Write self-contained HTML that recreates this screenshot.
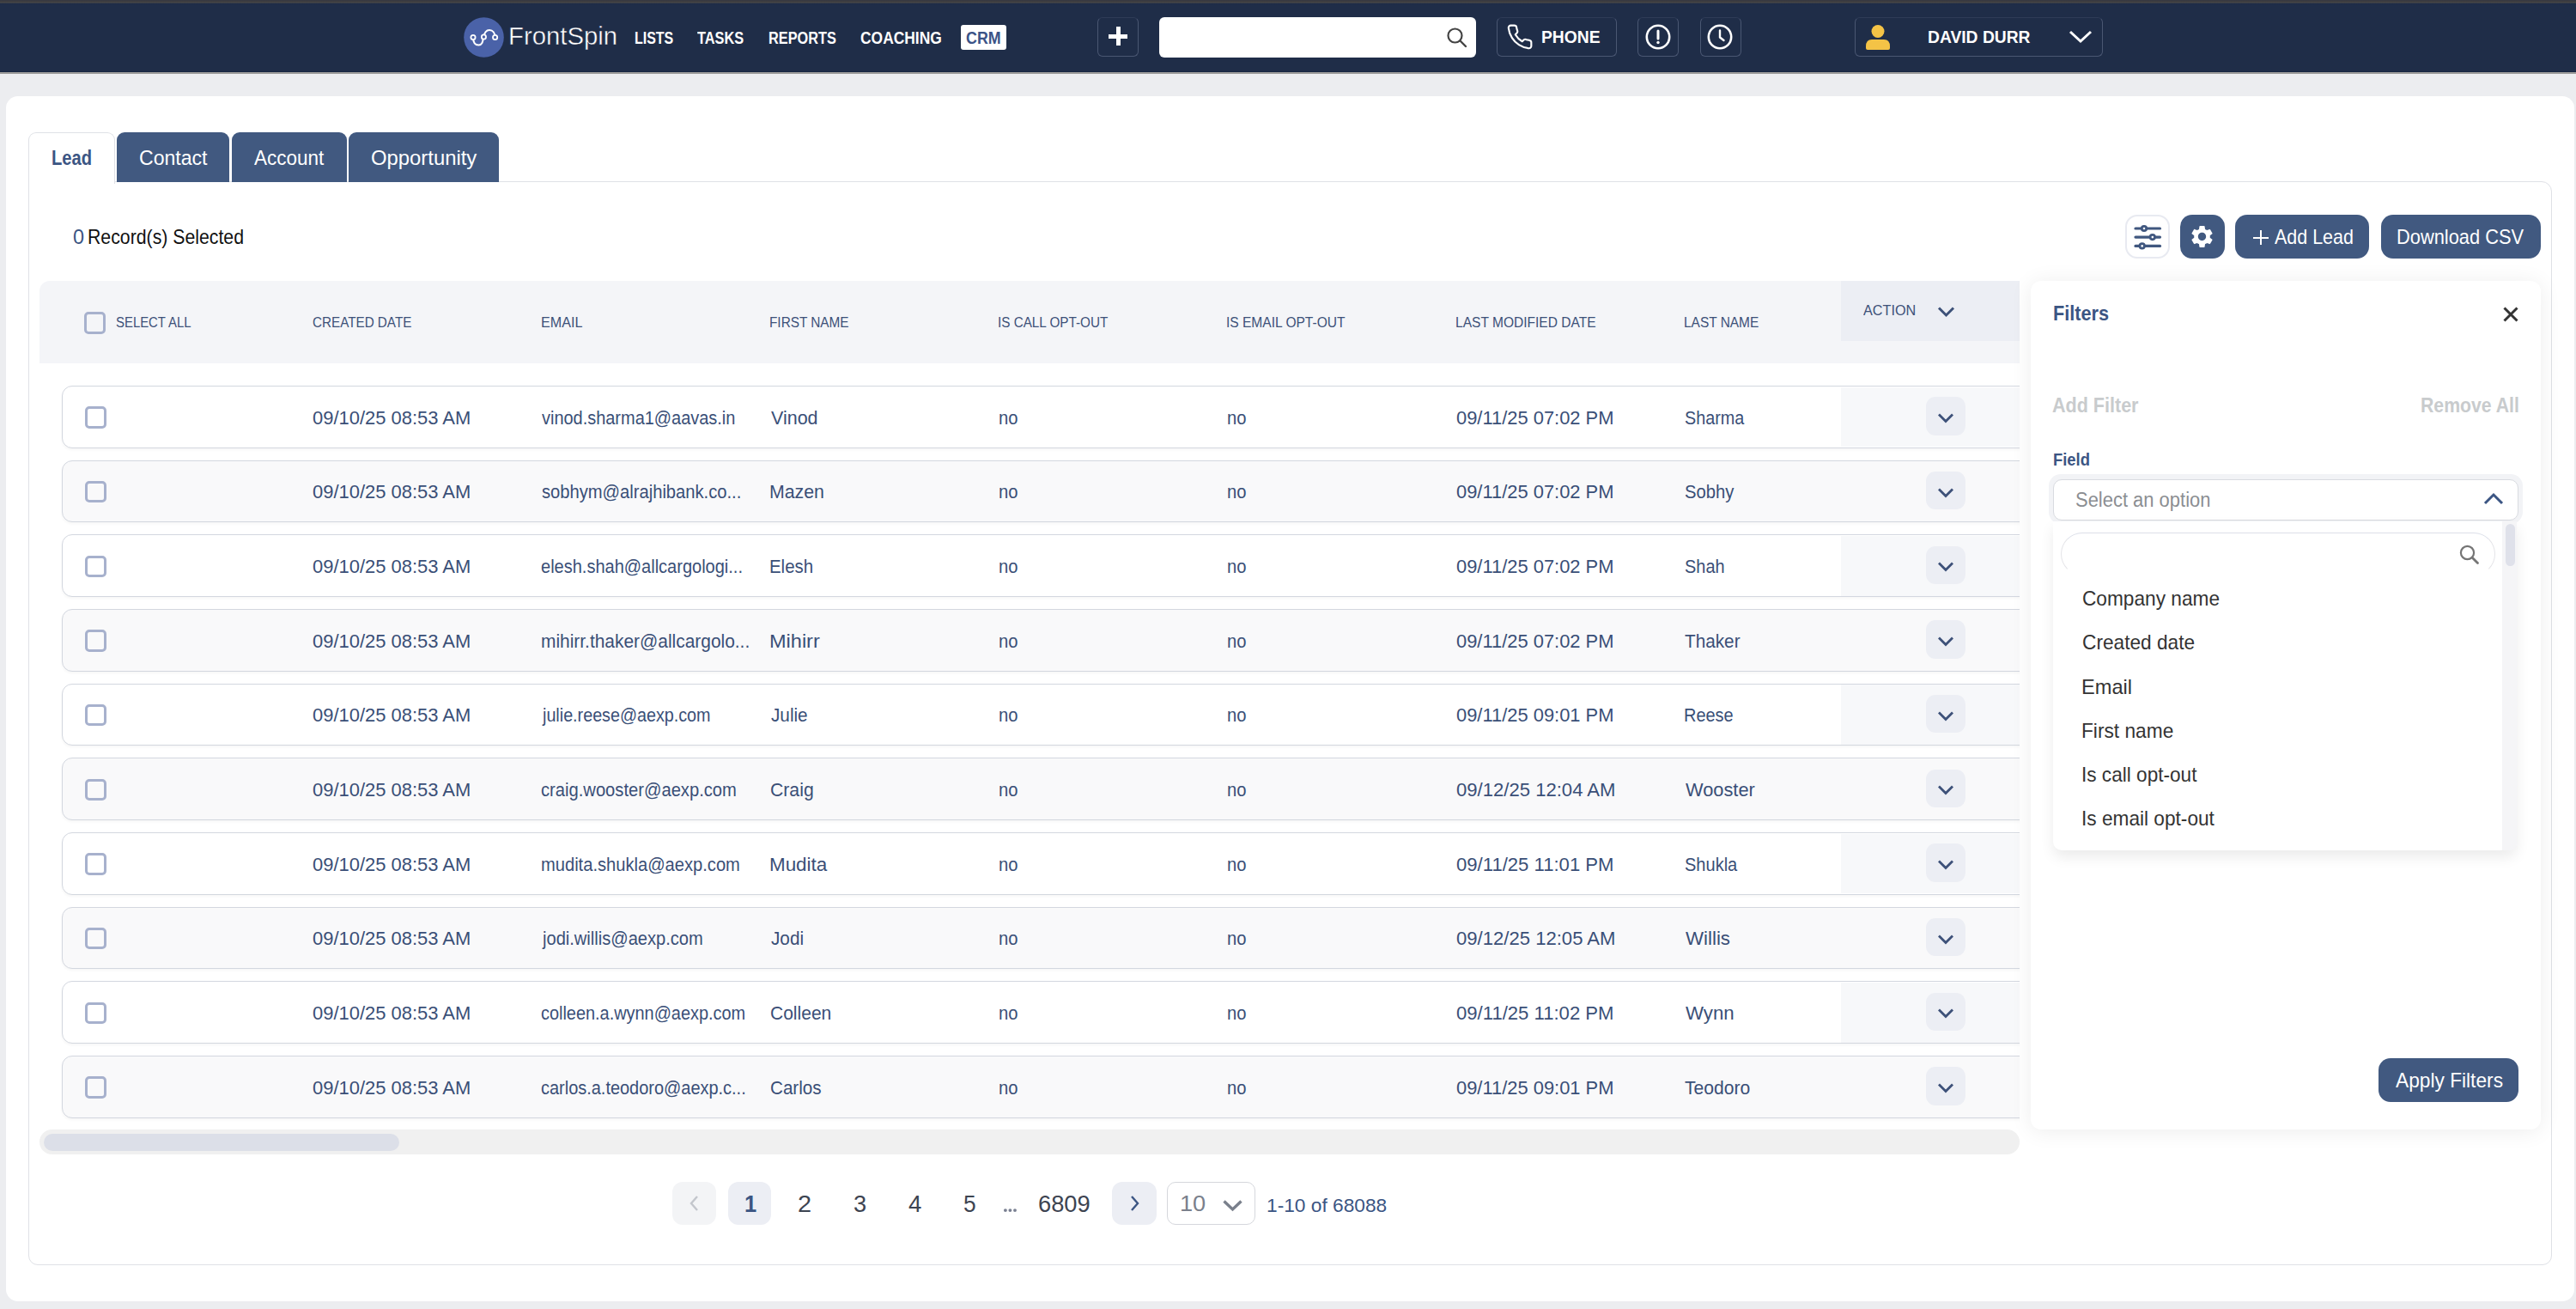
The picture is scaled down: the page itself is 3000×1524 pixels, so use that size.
<!DOCTYPE html><html><head><meta charset="utf-8"><title>CRM</title><style>
*{margin:0;padding:0;box-sizing:border-box}
html,body{width:3000px;height:1524px;overflow:hidden;background:#ecedf0;font-family:"Liberation Sans", sans-serif}
.a{position:absolute}
.t{position:absolute;line-height:1;white-space:nowrap}
.nav{position:absolute;left:0;top:0;width:3000px;height:84px;background:linear-gradient(#363843 0px,#3b3b3f 1.5px,#4a4948 3.2px,#1c2a46 4px,#1f2d48 5px,#1f2d48 82.5px,#172641 83.2px)}
.navsh{position:absolute;left:0;top:84px;width:3000px;height:2.1px;background:linear-gradient(#a3a2a1,#959594)}
.nb{position:absolute;border:1.5px solid #4a5772;border-top-color:rgba(74,87,114,0.35);border-radius:6px}
.card{position:absolute;left:7px;top:112px;width:2991px;height:1403px;background:#fff;border-radius:14px}
.inner{position:absolute;left:33px;top:211px;width:2939px;height:1262px;border:1.5px solid #dfe1e6;border-radius:0 12px 11px 11px}
.tab{position:absolute;top:154px;height:58px;background:#415980;border-radius:9px 9px 0 0}
.tab.act{background:#fff;border:1.5px solid #dfe1e6;border-bottom:none;border-radius:9px 9px 0 0}
.btn{position:absolute;background:#415980;border-radius:14px}
.cb{position:absolute;width:25px;height:25.5px;border:3px solid #a7b1cd;border-radius:5px}
.row{position:absolute;left:72px;width:2400px;height:72.8px;border:1.5px solid #d3d7df;border-radius:12px;background:#fff;box-shadow:0 2px 3px rgba(0,0,0,0.035)}
.row.g{background:#f9f9fa}
.acell{position:absolute;left:2144px;width:208px;background:#f7f8fa}
.abtn{position:absolute;left:2243px;width:46px;height:44.5px;border-radius:11px;background:#eceef4}
</style></head><body>
<div class="nav"></div><div class="navsh"></div>
<svg class="a" style="left:540px;top:20px" width="47" height="47" viewBox="0 0 47 47">
<circle cx="23.5" cy="23.5" r="23.3" fill="#4a62a8"/>
<path d="M11 23.5 C11 30 13 32.5 17.5 32.5 C21.5 32.5 22 29 23 24 C24 18 26 15 30 15 C34 15 36.5 18.5 36.5 23.5" fill="none" stroke="#fff" stroke-width="2"/>
<circle cx="11" cy="23.5" r="2.6" fill="#4a62a8" stroke="#fff" stroke-width="1.8"/>
<circle cx="23.4" cy="23" r="2.6" fill="#4a62a8" stroke="#fff" stroke-width="1.8"/>
<circle cx="36.6" cy="23.5" r="2.6" fill="#4a62a8" stroke="#fff" stroke-width="1.8"/>
</svg>
<div class="t" style="left:591.86px;top:27.31px;font-size:30px;color:#fff;font-weight:400;transform:scaleX(0.9769);transform-origin:0 0;-webkit-text-stroke:0.45px #1f2d48;">FrontSpin</div>
<div class="t" style="left:738.58px;top:34.02px;font-size:20.3px;color:#fff;font-weight:700;transform:scaleX(0.7874);transform-origin:0 0;">LISTS</div>
<div class="t" style="left:812.34px;top:34.02px;font-size:20.3px;color:#fff;font-weight:700;transform:scaleX(0.8042);transform-origin:0 0;">TASKS</div>
<div class="t" style="left:894.56px;top:34.02px;font-size:20.3px;color:#fff;font-weight:700;transform:scaleX(0.8033);transform-origin:0 0;">REPORTS</div>
<div class="t" style="left:1002.21px;top:34.02px;font-size:20.3px;color:#fff;font-weight:700;transform:scaleX(0.8589);transform-origin:0 0;">COACHING</div>
<div class="a" style="left:1119px;top:29px;width:53px;height:29px;background:#fff;border-radius:3px"></div>
<div class="t" style="left:1125.00px;top:34.02px;font-size:20.3px;color:#3b5387;font-weight:700;transform:scaleX(0.8798);transform-origin:0 0;">CRM</div>
<div class="nb" style="left:1278px;top:20px;width:48px;height:46px"></div>
<div class="a" style="left:1291px;top:40px;width:22px;height:5px;background:#fff"></div><div class="a" style="left:1299.5px;top:31px;width:5px;height:22px;background:#fff"></div>
<div class="a" style="left:1350px;top:20px;width:369px;height:47px;background:#fff;border-radius:6px"></div>
<svg class="a" style="left:1684px;top:31px" width="26" height="26" viewBox="0 0 26 26"><circle cx="10.5" cy="10.5" r="8" fill="none" stroke="#444" stroke-width="2.2"/><line x1="16.5" y1="16.5" x2="23" y2="23" stroke="#444" stroke-width="2.4" stroke-linecap="round"/></svg>
<div class="nb" style="left:1743px;top:20px;width:140px;height:46px"></div>
<svg class="a" style="left:1754px;top:27px" width="32" height="32" viewBox="0 0 24 24"><path d="M22 16.92v3a2 2 0 0 1-2.180 2 19.79 19.79 0 0 1-8.63-3.07 19.5 19.5 0 0 1-6-6 19.79 19.79 0 0 1-3.07-8.67A2 2 0 0 1 4.11 2h3a2 2 0 0 1 2 1.72c.13.96.36 1.9.7 2.81a2 2 0 0 1-.45 2.11L8.09 9.910a16 16 0 0 0 6 6l1.27-1.27a2 2 0 0 1 2.11-.45c.91.34 1.85.57 2.81.7A2 2 0 0 1 22 16.92z" fill="none" stroke="#fff" stroke-width="1.6" stroke-linejoin="round"/></svg>
<div class="t" style="left:1794.86px;top:32.82px;font-size:20.3px;color:#fff;font-weight:700;transform:scaleX(0.9516);transform-origin:0 0;">PHONE</div>
<div class="nb" style="left:1907px;top:20px;width:48px;height:46px"></div>
<svg class="a" style="left:1916px;top:28px" width="30" height="30" viewBox="0 0 30 30"><circle cx="15" cy="15" r="13.2" fill="none" stroke="#fff" stroke-width="2.6"/><line x1="15" y1="8" x2="15" y2="17" stroke="#fff" stroke-width="3" stroke-linecap="round"/><circle cx="15" cy="21.5" r="1.7" fill="#fff"/></svg>
<div class="nb" style="left:1980px;top:20px;width:48px;height:46px"></div>
<svg class="a" style="left:1988px;top:28px" width="30" height="30" viewBox="0 0 30 30"><circle cx="15" cy="15" r="13.2" fill="none" stroke="#fff" stroke-width="2.6"/><path d="M15 7.5 V15.5 L19.5 19" fill="none" stroke="#fff" stroke-width="2.4" stroke-linecap="round" stroke-linejoin="round"/></svg>
<div class="nb" style="left:2160px;top:20px;width:289px;height:46px"></div>
<svg class="a" style="left:2171px;top:27px" width="32" height="32" viewBox="0 0 32 32"><circle cx="16" cy="9.5" r="7.5" fill="#f4c346"/><path d="M2 27 Q2 19 9 19 H23 Q30 19 30 27 V29 Q30 31 28 31 H4 Q2 31 2 29 Z" fill="#f4c346"/></svg>
<div class="t" style="left:2244.76px;top:33.22px;font-size:20.3px;color:#fff;font-weight:700;transform:scaleX(0.9501);transform-origin:0 0;">DAVID DURR</div>
<svg class="a" style="left:2408px;top:33px" width="30" height="20" viewBox="0 0 30 20"><path d="M3 4 L15 15 L27 4" fill="none" stroke="#fff" stroke-width="3"/></svg>
<div class="card"></div>
<div class="inner"></div>
<div class="tab act" style="left:33px;width:101px;height:60px;background:#fff"></div>
<div class="t" style="left:59.60px;top:173.36px;font-size:23.2px;color:#3b5583;font-weight:700;transform:scaleX(0.8689);transform-origin:0 0;">Lead</div>
<div class="tab" style="left:136px;width:131px"></div>
<div class="t" style="left:161.63px;top:172.54px;font-size:23.7px;color:#fff;font-weight:400;transform:scaleX(0.9738);transform-origin:0 0;">Contact</div>
<div class="tab" style="left:270px;width:134px"></div>
<div class="t" style="left:296.41px;top:172.54px;font-size:23.7px;color:#fff;font-weight:400;transform:scaleX(0.9496);transform-origin:0 0;">Account</div>
<div class="tab" style="left:406px;width:175px"></div>
<div class="t" style="left:431.89px;top:172.54px;font-size:23.7px;color:#fff;font-weight:400;transform:scaleX(1.0066);transform-origin:0 0;">Opportunity</div>
<div class="t" style="left:84.91px;top:264.74px;font-size:23.7px;color:#3b5583;font-weight:400;transform:scaleX(0.9912);transform-origin:0 0;">0</div>
<div class="t" style="left:101.99px;top:264.74px;font-size:23.7px;color:#111;font-weight:400;transform:scaleX(0.8977);transform-origin:0 0;">Record(s) Selected</div>
<div class="a" style="left:2475px;top:250px;width:52px;height:51px;border:2px solid #e8eaf1;border-radius:14px;background:#fff"></div>
<svg class="a" style="left:2480px;top:256px" width="42" height="40" viewBox="0 0 42 40"><g stroke="#40577f" stroke-width="3.2" stroke-linecap="round" fill="none"><line x1="7" y1="10" x2="35.5" y2="10"/><line x1="7" y1="20.1" x2="35.5" y2="20.1"/><line x1="7" y1="30.4" x2="35.5" y2="30.4"/></g><g fill="#fff" stroke="#40577f" stroke-width="2.8"><circle cx="17" cy="10" r="2.7"/><circle cx="26.8" cy="20.1" r="2.7"/><circle cx="14.7" cy="30.4" r="2.7"/></g></svg>
<div class="btn" style="left:2539px;top:250px;width:52px;height:51px"></div>
<svg class="a" style="left:2549.3px;top:260.4px" width="31" height="31" viewBox="0 0 24 24"><path fill="#fff" d="M19.14 12.94c.04-.3.06-.61.06-.94 0-.32-.02-.64-.07-.94l2.03-1.58a.49.49 0 0 0 .12-.61l-1.92-3.32a.488.488 0 0 0-.59-.22l-2.39.96c-.5-.38-1.030-.7-1.62-.94l-.36-2.54a.484.484 0 0 0-.48-.41h-3.84c-.24 0-.43.17-.47.41l-.36 2.54c-.59.24-1.13.57-1.62.94l-2.39-.96c-.22-.08-.47 0-.59.22L2.74 8.87c-.12.21-.08.47.12.61l2.03 1.58c-.05.3-.09.63-.09.94s.02.64.07.94l-2.03 1.58a.49.49 0 0 0-.12.61l1.92 3.32c.12.22.37.29.59.22l2.39-.96c.5.38 1.03.7 1.62.94l.36 2.54c.05.24.24.41.48.41h3.84c.24 0 .44-.17.47-.41l.36-2.54c.59-.24 1.13-.56 1.62-.94l2.39.96c.22.08.47 0 .59-.22l1.92-3.32c.12-.22.07-.47-.12-.61l-2.01-1.58zM12 15.6c-1.98 0-3.6-1.62-3.6-3.6s1.62-3.6 3.6-3.6 3.6 1.62 3.6 3.6-1.62 3.6-3.6 3.6z"/></svg>
<div class="btn" style="left:2603px;top:250px;width:156px;height:51px"></div>
<div class="a" style="left:2623.8px;top:275.6px;width:17.8px;height:2.4px;background:#fff"></div><div class="a" style="left:2631.5px;top:267.9px;width:2.4px;height:17.6px;background:#fff"></div>
<div class="t" style="left:2648.81px;top:264.48px;font-size:24px;color:#fff;font-weight:400;transform:scaleX(0.8942);transform-origin:0 0;">Add Lead</div>
<div class="btn" style="left:2773px;top:250px;width:186px;height:51px"></div>
<div class="t" style="left:2790.78px;top:264.48px;font-size:24px;color:#fff;font-weight:400;transform:scaleX(0.9104);transform-origin:0 0;">Download CSV</div>
<div class="a" style="left:46px;top:327px;width:2306px;height:96px;background:#f4f5f8;border-radius:12px 0 0 0"></div>
<div class="a" style="left:2144px;top:327px;width:208px;height:70px;background:#eceef4"></div>
<div class="cb" style="left:98px;top:363px"></div>
<div class="t" style="left:135.17px;top:367.40px;font-size:16.3px;color:#3d5179;font-weight:400;transform:scaleX(0.9153);transform-origin:0 0;">SELECT ALL</div>
<div class="t" style="left:363.65px;top:367.40px;font-size:16.3px;color:#3d5179;font-weight:400;transform:scaleX(0.9352);transform-origin:0 0;">CREATED DATE</div>
<div class="t" style="left:629.61px;top:367.40px;font-size:16.3px;color:#3d5179;font-weight:400;transform:scaleX(0.9894);transform-origin:0 0;">EMAIL</div>
<div class="t" style="left:896.28px;top:367.40px;font-size:16.3px;color:#3d5179;font-weight:400;transform:scaleX(0.9419);transform-origin:0 0;">FIRST NAME</div>
<div class="t" style="left:1162.29px;top:367.40px;font-size:16.3px;color:#3d5179;font-weight:400;transform:scaleX(0.9371);transform-origin:0 0;">IS CALL OPT-OUT</div>
<div class="t" style="left:1428.27px;top:367.40px;font-size:16.3px;color:#3d5179;font-weight:400;transform:scaleX(0.9547);transform-origin:0 0;">IS EMAIL OPT-OUT</div>
<div class="t" style="left:1694.96px;top:367.40px;font-size:16.3px;color:#3d5179;font-weight:400;transform:scaleX(0.9552);transform-origin:0 0;">LAST MODIFIED DATE</div>
<div class="t" style="left:1961.47px;top:367.40px;font-size:16.3px;color:#3d5179;font-weight:400;transform:scaleX(0.9489);transform-origin:0 0;">LAST NAME</div>
<div class="t" style="left:2170.00px;top:352.80px;font-size:16.3px;color:#3d5179;font-weight:400;transform:scaleX(0.9950);transform-origin:0 0;">ACTION</div>
<svg class="a" style="left:2255px;top:355px" width="23" height="15" viewBox="0 0 23 15"><path d="M3 3.5 L11.5 12 L20 3.5" fill="none" stroke="#3d5179" stroke-width="3"/></svg>
<div class="a" style="left:0;top:0;width:2352px;height:1524px;overflow:hidden">
<div class="row" style="top:449.00px"></div>
<div class="acell" style="top:450.50px;height:69.8px;"></div>
<div class="abtn" style="top:462.20px"></div>
<svg class="a" style="left:2255px;top:480.00px" width="22" height="14" viewBox="0 0 22 14"><path d="M3 2.5 L11 10.5 L19 2.5" fill="none" stroke="#3d5179" stroke-width="2.8"/></svg>
<div class="cb" style="left:99px;top:473.30px"></div>
<div class="t" style="left:363.89px;top:475.53px;font-size:21.7px;color:#3a4f77;font-weight:400;transform:scaleX(1.0117);transform-origin:0 0;">09/10/25 08:53 AM</div>
<div class="t" style="left:631.21px;top:475.53px;font-size:21.7px;color:#3a4f77;font-weight:400;transform:scaleX(0.9196);transform-origin:0 0;">vinod.sharma1@aavas.in</div>
<div class="t" style="left:897.90px;top:475.53px;font-size:21.7px;color:#3a4f77;font-weight:400;transform:scaleX(0.9907);transform-origin:0 0;">Vinod</div>
<div class="t" style="left:1163.00px;top:475.53px;font-size:21.7px;color:#3a4f77;font-weight:400;transform:scaleX(0.9300);transform-origin:0 0;">no</div>
<div class="t" style="left:1429.00px;top:475.53px;font-size:21.7px;color:#3a4f77;font-weight:400;transform:scaleX(0.9300);transform-origin:0 0;">no</div>
<div class="t" style="left:1695.69px;top:475.53px;font-size:21.7px;color:#3a4f77;font-weight:400;transform:scaleX(1.0100);transform-origin:0 0;">09/11/25 07:02 PM</div>
<div class="t" style="left:1961.69px;top:475.53px;font-size:21.7px;color:#3a4f77;font-weight:400;transform:scaleX(0.9120);transform-origin:0 0;">Sharma</div>
<div class="row g" style="top:535.67px"></div>
<div class="acell" style="top:537.17px;height:69.8px;background:#f9f9fa"></div>
<div class="abtn" style="top:548.87px"></div>
<svg class="a" style="left:2255px;top:566.67px" width="22" height="14" viewBox="0 0 22 14"><path d="M3 2.5 L11 10.5 L19 2.5" fill="none" stroke="#3d5179" stroke-width="2.8"/></svg>
<div class="cb" style="left:99px;top:559.97px"></div>
<div class="t" style="left:363.89px;top:562.20px;font-size:21.7px;color:#3a4f77;font-weight:400;transform:scaleX(1.0117);transform-origin:0 0;">09/10/25 08:53 AM</div>
<div class="t" style="left:630.74px;top:562.20px;font-size:21.7px;color:#3a4f77;font-weight:400;transform:scaleX(0.9297);transform-origin:0 0;">sobhym@alrajhibank.co...</div>
<div class="t" style="left:896.23px;top:562.20px;font-size:21.7px;color:#3a4f77;font-weight:400;transform:scaleX(0.9823);transform-origin:0 0;">Mazen</div>
<div class="t" style="left:1163.00px;top:562.20px;font-size:21.7px;color:#3a4f77;font-weight:400;transform:scaleX(0.9300);transform-origin:0 0;">no</div>
<div class="t" style="left:1429.00px;top:562.20px;font-size:21.7px;color:#3a4f77;font-weight:400;transform:scaleX(0.9300);transform-origin:0 0;">no</div>
<div class="t" style="left:1695.69px;top:562.20px;font-size:21.7px;color:#3a4f77;font-weight:400;transform:scaleX(1.0100);transform-origin:0 0;">09/11/25 07:02 PM</div>
<div class="t" style="left:1961.67px;top:562.20px;font-size:21.7px;color:#3a4f77;font-weight:400;transform:scaleX(0.9322);transform-origin:0 0;">Sobhy</div>
<div class="row" style="top:622.34px"></div>
<div class="acell" style="top:623.84px;height:69.8px;"></div>
<div class="abtn" style="top:635.54px"></div>
<svg class="a" style="left:2255px;top:653.34px" width="22" height="14" viewBox="0 0 22 14"><path d="M3 2.5 L11 10.5 L19 2.5" fill="none" stroke="#3d5179" stroke-width="2.8"/></svg>
<div class="cb" style="left:99px;top:646.64px"></div>
<div class="t" style="left:363.89px;top:648.87px;font-size:21.7px;color:#3a4f77;font-weight:400;transform:scaleX(1.0117);transform-origin:0 0;">09/10/25 08:53 AM</div>
<div class="t" style="left:630.47px;top:648.87px;font-size:21.7px;color:#3a4f77;font-weight:400;transform:scaleX(0.9226);transform-origin:0 0;">elesh.shah@allcargologi...</div>
<div class="t" style="left:896.31px;top:648.87px;font-size:21.7px;color:#3a4f77;font-weight:400;transform:scaleX(0.9413);transform-origin:0 0;">Elesh</div>
<div class="t" style="left:1163.00px;top:648.87px;font-size:21.7px;color:#3a4f77;font-weight:400;transform:scaleX(0.9300);transform-origin:0 0;">no</div>
<div class="t" style="left:1429.00px;top:648.87px;font-size:21.7px;color:#3a4f77;font-weight:400;transform:scaleX(0.9300);transform-origin:0 0;">no</div>
<div class="t" style="left:1695.69px;top:648.87px;font-size:21.7px;color:#3a4f77;font-weight:400;transform:scaleX(1.0100);transform-origin:0 0;">09/11/25 07:02 PM</div>
<div class="t" style="left:1961.68px;top:648.87px;font-size:21.7px;color:#3a4f77;font-weight:400;transform:scaleX(0.9193);transform-origin:0 0;">Shah</div>
<div class="row g" style="top:709.01px"></div>
<div class="acell" style="top:710.51px;height:69.8px;background:#f9f9fa"></div>
<div class="abtn" style="top:722.21px"></div>
<svg class="a" style="left:2255px;top:740.01px" width="22" height="14" viewBox="0 0 22 14"><path d="M3 2.5 L11 10.5 L19 2.5" fill="none" stroke="#3d5179" stroke-width="2.8"/></svg>
<div class="cb" style="left:99px;top:733.31px"></div>
<div class="t" style="left:363.89px;top:735.54px;font-size:21.7px;color:#3a4f77;font-weight:400;transform:scaleX(1.0117);transform-origin:0 0;">09/10/25 08:53 AM</div>
<div class="t" style="left:629.95px;top:735.54px;font-size:21.7px;color:#3a4f77;font-weight:400;transform:scaleX(0.9643);transform-origin:0 0;">mihirr.thaker@allcargolo...</div>
<div class="t" style="left:896.05px;top:735.54px;font-size:21.7px;color:#3a4f77;font-weight:400;transform:scaleX(1.0845);transform-origin:0 0;">Mihirr</div>
<div class="t" style="left:1163.00px;top:735.54px;font-size:21.7px;color:#3a4f77;font-weight:400;transform:scaleX(0.9300);transform-origin:0 0;">no</div>
<div class="t" style="left:1429.00px;top:735.54px;font-size:21.7px;color:#3a4f77;font-weight:400;transform:scaleX(0.9300);transform-origin:0 0;">no</div>
<div class="t" style="left:1695.69px;top:735.54px;font-size:21.7px;color:#3a4f77;font-weight:400;transform:scaleX(1.0100);transform-origin:0 0;">09/11/25 07:02 PM</div>
<div class="t" style="left:1962.12px;top:735.54px;font-size:21.7px;color:#3a4f77;font-weight:400;transform:scaleX(0.9565);transform-origin:0 0;">Thaker</div>
<div class="row" style="top:795.68px"></div>
<div class="acell" style="top:797.18px;height:69.8px;"></div>
<div class="abtn" style="top:808.88px"></div>
<svg class="a" style="left:2255px;top:826.68px" width="22" height="14" viewBox="0 0 22 14"><path d="M3 2.5 L11 10.5 L19 2.5" fill="none" stroke="#3d5179" stroke-width="2.8"/></svg>
<div class="cb" style="left:99px;top:819.98px"></div>
<div class="t" style="left:363.89px;top:822.21px;font-size:21.7px;color:#3a4f77;font-weight:400;transform:scaleX(1.0117);transform-origin:0 0;">09/10/25 08:53 AM</div>
<div class="t" style="left:631.75px;top:822.21px;font-size:21.7px;color:#3a4f77;font-weight:400;transform:scaleX(0.9099);transform-origin:0 0;">julie.reese@aexp.com</div>
<div class="t" style="left:897.62px;top:822.21px;font-size:21.7px;color:#3a4f77;font-weight:400;transform:scaleX(0.9561);transform-origin:0 0;">Julie</div>
<div class="t" style="left:1163.00px;top:822.21px;font-size:21.7px;color:#3a4f77;font-weight:400;transform:scaleX(0.9300);transform-origin:0 0;">no</div>
<div class="t" style="left:1429.00px;top:822.21px;font-size:21.7px;color:#3a4f77;font-weight:400;transform:scaleX(0.9300);transform-origin:0 0;">no</div>
<div class="t" style="left:1695.69px;top:822.21px;font-size:21.7px;color:#3a4f77;font-weight:400;transform:scaleX(1.0100);transform-origin:0 0;">09/11/25 09:01 PM</div>
<div class="t" style="left:1960.94px;top:822.21px;font-size:21.7px;color:#3a4f77;font-weight:400;transform:scaleX(0.9200);transform-origin:0 0;">Reese</div>
<div class="row g" style="top:882.35px"></div>
<div class="acell" style="top:883.85px;height:69.8px;background:#f9f9fa"></div>
<div class="abtn" style="top:895.55px"></div>
<svg class="a" style="left:2255px;top:913.35px" width="22" height="14" viewBox="0 0 22 14"><path d="M3 2.5 L11 10.5 L19 2.5" fill="none" stroke="#3d5179" stroke-width="2.8"/></svg>
<div class="cb" style="left:99px;top:906.65px"></div>
<div class="t" style="left:363.89px;top:908.88px;font-size:21.7px;color:#3a4f77;font-weight:400;transform:scaleX(1.0117);transform-origin:0 0;">09/10/25 08:53 AM</div>
<div class="t" style="left:630.46px;top:908.88px;font-size:21.7px;color:#3a4f77;font-weight:400;transform:scaleX(0.9300);transform-origin:0 0;">craig.wooster@aexp.com</div>
<div class="t" style="left:896.92px;top:908.88px;font-size:21.7px;color:#3a4f77;font-weight:400;transform:scaleX(0.9777);transform-origin:0 0;">Craig</div>
<div class="t" style="left:1163.00px;top:908.88px;font-size:21.7px;color:#3a4f77;font-weight:400;transform:scaleX(0.9300);transform-origin:0 0;">no</div>
<div class="t" style="left:1429.00px;top:908.88px;font-size:21.7px;color:#3a4f77;font-weight:400;transform:scaleX(0.9300);transform-origin:0 0;">no</div>
<div class="t" style="left:1695.68px;top:908.88px;font-size:21.7px;color:#3a4f77;font-weight:400;transform:scaleX(1.0189);transform-origin:0 0;">09/12/25 12:04 AM</div>
<div class="t" style="left:1962.50px;top:908.88px;font-size:21.7px;color:#3a4f77;font-weight:400;transform:scaleX(1.0050);transform-origin:0 0;">Wooster</div>
<div class="row" style="top:969.02px"></div>
<div class="acell" style="top:970.52px;height:69.8px;"></div>
<div class="abtn" style="top:982.22px"></div>
<svg class="a" style="left:2255px;top:1000.02px" width="22" height="14" viewBox="0 0 22 14"><path d="M3 2.5 L11 10.5 L19 2.5" fill="none" stroke="#3d5179" stroke-width="2.8"/></svg>
<div class="cb" style="left:99px;top:993.32px"></div>
<div class="t" style="left:363.89px;top:995.55px;font-size:21.7px;color:#3a4f77;font-weight:400;transform:scaleX(1.0117);transform-origin:0 0;">09/10/25 08:53 AM</div>
<div class="t" style="left:630.00px;top:995.55px;font-size:21.7px;color:#3a4f77;font-weight:400;transform:scaleX(0.9280);transform-origin:0 0;">mudita.shukla@aexp.com</div>
<div class="t" style="left:896.14px;top:995.55px;font-size:21.7px;color:#3a4f77;font-weight:400;transform:scaleX(1.0331);transform-origin:0 0;">Mudita</div>
<div class="t" style="left:1163.00px;top:995.55px;font-size:21.7px;color:#3a4f77;font-weight:400;transform:scaleX(0.9300);transform-origin:0 0;">no</div>
<div class="t" style="left:1429.00px;top:995.55px;font-size:21.7px;color:#3a4f77;font-weight:400;transform:scaleX(0.9300);transform-origin:0 0;">no</div>
<div class="t" style="left:1695.68px;top:995.55px;font-size:21.7px;color:#3a4f77;font-weight:400;transform:scaleX(1.0191);transform-origin:0 0;">09/11/25 11:01 PM</div>
<div class="t" style="left:1961.68px;top:995.55px;font-size:21.7px;color:#3a4f77;font-weight:400;transform:scaleX(0.9235);transform-origin:0 0;">Shukla</div>
<div class="row g" style="top:1055.69px"></div>
<div class="acell" style="top:1057.19px;height:69.8px;background:#f9f9fa"></div>
<div class="abtn" style="top:1068.89px"></div>
<svg class="a" style="left:2255px;top:1086.69px" width="22" height="14" viewBox="0 0 22 14"><path d="M3 2.5 L11 10.5 L19 2.5" fill="none" stroke="#3d5179" stroke-width="2.8"/></svg>
<div class="cb" style="left:99px;top:1079.99px"></div>
<div class="t" style="left:363.89px;top:1082.22px;font-size:21.7px;color:#3a4f77;font-weight:400;transform:scaleX(1.0117);transform-origin:0 0;">09/10/25 08:53 AM</div>
<div class="t" style="left:631.76px;top:1082.22px;font-size:21.7px;color:#3a4f77;font-weight:400;transform:scaleX(0.9263);transform-origin:0 0;">jodi.willis@aexp.com</div>
<div class="t" style="left:897.62px;top:1082.22px;font-size:21.7px;color:#3a4f77;font-weight:400;transform:scaleX(0.9553);transform-origin:0 0;">Jodi</div>
<div class="t" style="left:1163.00px;top:1082.22px;font-size:21.7px;color:#3a4f77;font-weight:400;transform:scaleX(0.9300);transform-origin:0 0;">no</div>
<div class="t" style="left:1429.00px;top:1082.22px;font-size:21.7px;color:#3a4f77;font-weight:400;transform:scaleX(0.9300);transform-origin:0 0;">no</div>
<div class="t" style="left:1695.68px;top:1082.22px;font-size:21.7px;color:#3a4f77;font-weight:400;transform:scaleX(1.0189);transform-origin:0 0;">09/12/25 12:05 AM</div>
<div class="t" style="left:1962.50px;top:1082.22px;font-size:21.7px;color:#3a4f77;font-weight:400;transform:scaleX(1.0281);transform-origin:0 0;">Willis</div>
<div class="row" style="top:1142.36px"></div>
<div class="acell" style="top:1143.86px;height:69.8px;"></div>
<div class="abtn" style="top:1155.56px"></div>
<svg class="a" style="left:2255px;top:1173.36px" width="22" height="14" viewBox="0 0 22 14"><path d="M3 2.5 L11 10.5 L19 2.5" fill="none" stroke="#3d5179" stroke-width="2.8"/></svg>
<div class="cb" style="left:99px;top:1166.66px"></div>
<div class="t" style="left:363.89px;top:1168.89px;font-size:21.7px;color:#3a4f77;font-weight:400;transform:scaleX(1.0117);transform-origin:0 0;">09/10/25 08:53 AM</div>
<div class="t" style="left:630.47px;top:1168.89px;font-size:21.7px;color:#3a4f77;font-weight:400;transform:scaleX(0.9176);transform-origin:0 0;">colleen.a.wynn@aexp.com</div>
<div class="t" style="left:896.93px;top:1168.89px;font-size:21.7px;color:#3a4f77;font-weight:400;transform:scaleX(0.9691);transform-origin:0 0;">Colleen</div>
<div class="t" style="left:1163.00px;top:1168.89px;font-size:21.7px;color:#3a4f77;font-weight:400;transform:scaleX(0.9300);transform-origin:0 0;">no</div>
<div class="t" style="left:1429.00px;top:1168.89px;font-size:21.7px;color:#3a4f77;font-weight:400;transform:scaleX(0.9300);transform-origin:0 0;">no</div>
<div class="t" style="left:1695.68px;top:1168.89px;font-size:21.7px;color:#3a4f77;font-weight:400;transform:scaleX(1.0191);transform-origin:0 0;">09/11/25 11:02 PM</div>
<div class="t" style="left:1962.50px;top:1168.89px;font-size:21.7px;color:#3a4f77;font-weight:400;transform:scaleX(1.0260);transform-origin:0 0;">Wynn</div>
<div class="row g" style="top:1229.03px"></div>
<div class="acell" style="top:1230.53px;height:69.8px;background:#f9f9fa"></div>
<div class="abtn" style="top:1242.23px"></div>
<svg class="a" style="left:2255px;top:1260.03px" width="22" height="14" viewBox="0 0 22 14"><path d="M3 2.5 L11 10.5 L19 2.5" fill="none" stroke="#3d5179" stroke-width="2.8"/></svg>
<div class="cb" style="left:99px;top:1253.33px"></div>
<div class="t" style="left:363.89px;top:1255.56px;font-size:21.7px;color:#3a4f77;font-weight:400;transform:scaleX(1.0117);transform-origin:0 0;">09/10/25 08:53 AM</div>
<div class="t" style="left:630.47px;top:1255.56px;font-size:21.7px;color:#3a4f77;font-weight:400;transform:scaleX(0.9198);transform-origin:0 0;">carlos.a.teodoro@aexp.c...</div>
<div class="t" style="left:896.95px;top:1255.56px;font-size:21.7px;color:#3a4f77;font-weight:400;transform:scaleX(0.9507);transform-origin:0 0;">Carlos</div>
<div class="t" style="left:1163.00px;top:1255.56px;font-size:21.7px;color:#3a4f77;font-weight:400;transform:scaleX(0.9300);transform-origin:0 0;">no</div>
<div class="t" style="left:1429.00px;top:1255.56px;font-size:21.7px;color:#3a4f77;font-weight:400;transform:scaleX(0.9300);transform-origin:0 0;">no</div>
<div class="t" style="left:1695.69px;top:1255.56px;font-size:21.7px;color:#3a4f77;font-weight:400;transform:scaleX(1.0100);transform-origin:0 0;">09/11/25 09:01 PM</div>
<div class="t" style="left:1962.11px;top:1255.56px;font-size:21.7px;color:#3a4f77;font-weight:400;transform:scaleX(0.9741);transform-origin:0 0;">Teodoro</div>
</div>
<div class="a" style="left:46px;top:1315px;width:2306px;height:29px;background:#f0f0f0;border-radius:15px"></div>
<div class="a" style="left:51px;top:1320px;width:414px;height:20px;background:#dcdfe8;border-radius:10px"></div>
<div class="a" style="left:2365px;top:327px;width:594px;height:988px;background:#fff;border-radius:12px;box-shadow:0 2px 26px rgba(0,0,0,0.075)"></div>
<div class="t" style="left:2390.87px;top:353.23px;font-size:24.3px;color:#3b5583;font-weight:700;transform:scaleX(0.8919);transform-origin:0 0;">Filters</div>
<svg class="a" style="left:2914px;top:356px" width="20" height="20" viewBox="0 0 20 20"><path d="M2.5 2.5 L17.5 17.5 M17.5 2.5 L2.5 17.5" stroke="#333" stroke-width="3"/></svg>
<div class="t" style="left:2390.46px;top:459.58px;font-size:24px;color:#c8cbcd;font-weight:700;transform:scaleX(0.8974);transform-origin:0 0;">Add Filter</div>
<div class="t" style="left:2818.58px;top:459.58px;font-size:24px;color:#c8cbcd;font-weight:700;transform:scaleX(0.8847);transform-origin:0 0;">Remove All</div>
<div class="t" style="left:2390.52px;top:524.82px;font-size:20.3px;color:#3b5583;font-weight:700;transform:scaleX(0.9062);transform-origin:0 0;">Field</div>
<div class="a" style="left:2386px;top:552px;width:552px;height:58px;background:#f2f3f6;border-radius:14px"></div>
<div class="a" style="left:2391px;top:558px;width:542px;height:48px;background:#fff;border:1.5px solid #d9dbe0;border-radius:10px"></div>
<div class="t" style="left:2417.16px;top:570.88px;font-size:23.3px;color:#8b8e92;font-weight:400;transform:scaleX(0.9422);transform-origin:0 0;">Select an option</div>
<svg class="a" style="left:2890px;top:570px" width="28" height="20" viewBox="0 0 28 20"><path d="M4 16 L14 6 L24 16" fill="none" stroke="#3b5583" stroke-width="3"/></svg>
<div class="a" style="left:2391px;top:607px;width:540px;height:383px;background:#fff;border-radius:0 0 10px 10px;box-shadow:0 8px 16px rgba(0,0,0,0.08)"></div>
<div class="a" style="left:2914px;top:607px;width:17px;height:383px;background:#f5f5f7;border-radius:0 0 8px 0"></div>
<div class="a" style="left:2918px;top:610px;width:11px;height:49px;background:#dfe1ea;border-radius:6px"></div>
<div class="a" style="left:2400px;top:620px;width:506px;height:50px;border:1.5px solid #e4e4e8;border-top-color:#dcdfe9;border-bottom-color:transparent;border-radius:25px;background:#fff"></div>
<svg class="a" style="left:2863px;top:633px" width="26" height="26" viewBox="0 0 26 26"><circle cx="10.5" cy="10.5" r="7.6" fill="none" stroke="#757575" stroke-width="2.2"/><line x1="16.2" y1="16.2" x2="22.5" y2="22.5" stroke="#757575" stroke-width="2.8" stroke-linecap="round"/></svg>
<div class="t" style="left:2424.63px;top:685.96px;font-size:23.2px;color:#333;font-weight:400;transform:scaleX(0.9777);transform-origin:0 0;">Company name</div>
<div class="t" style="left:2424.63px;top:737.26px;font-size:23.2px;color:#333;font-weight:400;transform:scaleX(0.9780);transform-origin:0 0;">Created date</div>
<div class="t" style="left:2423.87px;top:788.56px;font-size:23.2px;color:#333;font-weight:400;transform:scaleX(1.0183);transform-origin:0 0;">Email</div>
<div class="t" style="left:2423.94px;top:839.86px;font-size:23.2px;color:#333;font-weight:400;transform:scaleX(0.9794);transform-origin:0 0;">First name</div>
<div class="t" style="left:2423.75px;top:891.16px;font-size:23.2px;color:#333;font-weight:400;transform:scaleX(0.9749);transform-origin:0 0;">Is call opt-out</div>
<div class="t" style="left:2423.75px;top:942.46px;font-size:23.2px;color:#333;font-weight:400;transform:scaleX(0.9770);transform-origin:0 0;">Is email opt-out</div>
<div class="btn" style="left:2770px;top:1232px;width:163px;height:51px"></div>
<div class="t" style="left:2789.91px;top:1246.08px;font-size:24px;color:#fff;font-weight:400;transform:scaleX(0.9466);transform-origin:0 0;">Apply Filters</div>
<div class="a" style="left:783px;top:1376px;width:51px;height:50px;background:#f3f4f6;border-radius:12px"></div>
<svg class="a" style="left:800px;top:1390px" width="18" height="22" viewBox="0 0 18 22"><path d="M12 3 L5 11 L12 19" fill="none" stroke="#c3c6cc" stroke-width="2.4"/></svg>
<div class="a" style="left:848px;top:1376px;width:50px;height:50px;background:#eceef4;border-radius:12px"></div>
<div class="t" style="left:866.63px;top:1387.74px;font-size:27.6px;color:#3b5583;font-weight:700;transform:scaleX(0.9225);transform-origin:0 0;">1</div>
<div class="t" style="left:929.03px;top:1387.74px;font-size:27.6px;color:#3d4451;font-weight:400;transform:scaleX(1.0476);transform-origin:0 0;">2</div>
<div class="t" style="left:994.32px;top:1387.74px;font-size:27.6px;color:#3d4451;font-weight:400;transform:scaleX(0.9846);transform-origin:0 0;">3</div>
<div class="t" style="left:1058.00px;top:1387.74px;font-size:27.6px;color:#3d4451;font-weight:400;transform:scaleX(1.0000);transform-origin:0 0;">4</div>
<div class="t" style="left:1121.95px;top:1387.74px;font-size:27.6px;color:#3d4451;font-weight:400;transform:scaleX(0.9542);transform-origin:0 0;">5</div>
<svg class="a" style="left:1166px;top:1404px" width="20" height="10" viewBox="0 0 20 10"><g fill="#7a8092"><circle cx="4.9" cy="5.1" r="1.95"/><circle cx="10.4" cy="5.1" r="1.95"/><circle cx="16" cy="5.1" r="1.95"/></g></svg>
<div class="t" style="left:1209.22px;top:1387.74px;font-size:27.6px;color:#3d4451;font-weight:400;transform:scaleX(0.9881);transform-origin:0 0;">6809</div>
<div class="a" style="left:1295px;top:1376px;width:52px;height:50px;background:#eceef4;border-radius:12px"></div>
<svg class="a" style="left:1312px;top:1390px" width="18" height="22" viewBox="0 0 18 22"><path d="M6 3 L13 11 L6 19" fill="none" stroke="#3b5583" stroke-width="2.4"/></svg>
<div class="a" style="left:1359px;top:1376px;width:103px;height:50px;border:1.5px solid #d5d7dc;border-radius:10px;background:#fff"></div>
<div class="t" style="left:1373.74px;top:1388.45px;font-size:26.4px;color:#7a808c;font-weight:400;transform:scaleX(1.0303);transform-origin:0 0;">10</div>
<svg class="a" style="left:1422px;top:1394px" width="27" height="18" viewBox="0 0 27 18"><path d="M3.5 4.5 L13.5 14 L23.5 4.5" fill="none" stroke="#7a808c" stroke-width="3.4"/></svg>
<div class="t" style="left:1475.31px;top:1391.50px;font-size:22.8px;color:#3b5583;font-weight:400;transform:scaleX(0.9964);transform-origin:0 0;">1-10 of 68088</div>
</body></html>
